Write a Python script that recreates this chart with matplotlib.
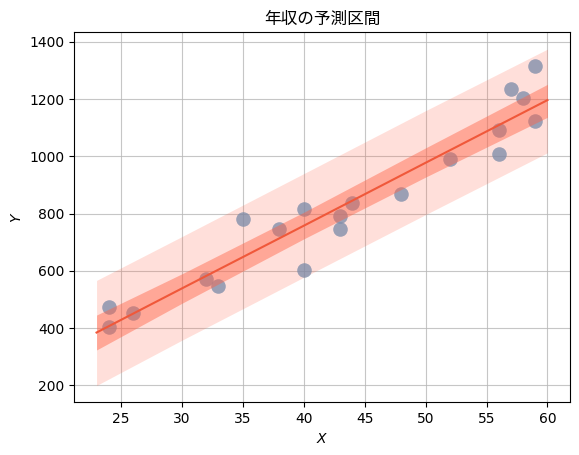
import matplotlib
matplotlib.use("Agg")
import matplotlib.pyplot as plt
import numpy as np

# observed data (age X, income Y)
x_obs = [24, 24, 26, 32, 33, 35, 38, 40, 40, 43, 43, 44, 48, 52, 56, 56, 57, 58, 59, 59]
y_obs = [473, 403, 452, 573, 546, 781, 748, 816, 602, 791, 745, 838, 868, 992, 1092, 1008, 1236, 1203, 1317, 1125]

# posterior summaries at a few x positions
x_new = [23, 30, 40, 50, 60]
y_mean = [385, 539, 758, 978, 1197]
ci_low = [324, 487, 712, 928, 1137]
ci_high = [446, 590, 805, 1030, 1252]
pi_low = [200, 358, 578, 797, 1013]
pi_high = [567, 720, 940, 1160, 1375]

fig = plt.figure(figsize=(5.79, 4.55), dpi=100)
ax = fig.add_axes([0.1278, 0.1158, 0.8567, 0.8132])

ax.grid(True, color="#b8b8b8", linewidth=0.8, alpha=0.8, zorder=0)
ax.set_axisbelow(True)

# prediction interval (light), then points, then credible interval (dark)
ax.fill_between(x_new, pi_low, pi_high, color="tomato", alpha=0.2, linewidth=0, zorder=1)
ax.scatter(x_obs, y_obs, s=110, color="#7a8aa8", alpha=0.75, linewidths=0, zorder=2)
ax.fill_between(x_new, ci_low, ci_high, color="tomato", alpha=0.45, linewidth=0, zorder=3)
ax.plot(x_new, y_mean, color="#f0583a", linewidth=1.5, zorder=4)

ax.set_xlabel("$X$")
ax.set_ylabel("$Y$")
ax.set_title("年収の予測区間", family=["Noto Sans CJK JP", "DejaVu Sans"])

fig.savefig("out.png", dpi=100)
